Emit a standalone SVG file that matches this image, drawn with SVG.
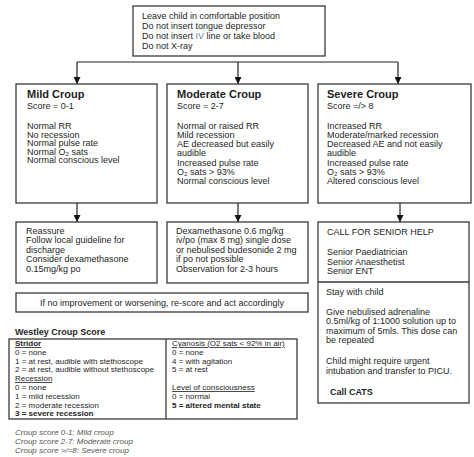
<svg xmlns="http://www.w3.org/2000/svg" width="474" height="457" viewBox="0 0 474 457">
<defs>
<style>
.box{fill:#fff;stroke:#3a3a3a;stroke-width:1.3}
.t{font-family:"Liberation Sans",Arial,sans-serif;font-size:9px;fill:#1e1e1e}
.s{font-size:8px}
.h{font-family:"Liberation Sans",Arial,sans-serif;font-size:11px;font-weight:bold;fill:#1e1e1e}
.b{font-weight:bold}
.u{text-decoration:underline}
.f{font-family:"Liberation Sans",Arial,sans-serif;font-size:8px;font-style:italic;fill:#555}
.ln{fill:none;stroke:#222;stroke-width:1.2}
</style>
<marker id="ah" markerUnits="userSpaceOnUse" markerWidth="8" markerHeight="7" refX="7" refY="3.5" orient="auto">
<path d="M0,0 L7,3.5 L0,7 Z" fill="#111"/>
</marker>
</defs>
<rect width="474" height="457" fill="#fff"/>

<g id="connectors">
<path class="ln" d="M77,62 H398"/>
<path class="ln" d="M77,62 V84" marker-end="url(#ah)"/>
<path class="ln" d="M238,62 V84" marker-end="url(#ah)"/>
<path class="ln" d="M398,62 V84" marker-end="url(#ah)"/>
<path class="ln" d="M77,203 V222" marker-end="url(#ah)"/>
<path class="ln" d="M238,203 V222" marker-end="url(#ah)"/>
<path class="ln" d="M400,203 V222" marker-end="url(#ah)"/>
</g>

<g id="start">
<rect class="box" x="133" y="6" width="192" height="50"/>
<text class="t" x="142" y="18.5">Leave child in comfortable position</text>
<text class="t" x="142" y="28.5">Do not insert tongue depressor</text>
<text class="t" x="142" y="38.5">Do not insert <tspan fill="#6f7f9f">IV</tspan> line or take blood</text>
<text class="t" x="142" y="48.5">Do not X-ray</text>
</g>

<g id="mild">
<rect class="box" x="16" y="84" width="141" height="119"/>
<text class="h" x="27" y="98">Mild Croup</text>
<text class="t" x="27" y="108.5">Score = 0-1</text>
<text class="t" x="27" y="129">Normal RR</text>
<text class="t" x="27" y="137.5">No recession</text>
<text class="t" x="27" y="146">Normal pulse rate</text>
<text class="t" x="27" y="154.5">Normal O₂ sats</text>
<text class="t" x="27" y="163">Normal conscious level</text>
</g>

<g id="moderate">
<rect class="box" x="167" y="84" width="141" height="119"/>
<text class="h" x="177" y="98">Moderate Croup</text>
<text class="t" x="177" y="108.5">Score = 2-7</text>
<text class="t" x="177" y="128.5">Normal or raised RR</text>
<text class="t" x="177" y="137.8">Mild recession</text>
<text class="t" x="177" y="147.1">AE decreased but easily</text>
<text class="t" x="177" y="156.4">audible</text>
<text class="t" x="177" y="165.7">Increased pulse rate</text>
<text class="t" x="177" y="175">O₂ sats &gt; 93%</text>
<text class="t" x="177" y="184.3">Normal conscious level</text>
</g>

<g id="severe">
<rect class="box" x="318" y="84" width="153" height="119"/>
<text class="h" x="327" y="98">Severe Croup</text>
<text class="t" x="327" y="108.5">Score =/&gt; 8</text>
<text class="t" x="327" y="128.5">Increased RR</text>
<text class="t" x="327" y="137.8">Moderate/marked recession</text>
<text class="t" x="327" y="147.1">Decreased AE and not easily</text>
<text class="t" x="327" y="156.4">audible</text>
<text class="t" x="327" y="165.7">Increased pulse rate</text>
<text class="t" x="327" y="175">O₂ sats &gt; 93%</text>
<text class="t" x="327" y="184.3">Altered conscious level</text>
</g>

<g id="mild-action">
<rect class="box" x="16" y="222" width="141" height="61"/>
<text class="t" x="26" y="233.5">Reassure</text>
<text class="t" x="26" y="243.1">Follow local guideline for</text>
<text class="t" x="26" y="252.7">discharge</text>
<text class="t" x="26" y="262.3">Consider dexamethasone</text>
<text class="t" x="26" y="271.9">0.15mg/kg po</text>
</g>

<g id="moderate-action">
<rect class="box" x="167" y="222" width="141" height="61"/>
<text class="t" x="176" y="233.5">Dexamethasone 0.6 mg/kg</text>
<text class="t" x="176" y="243.1">iv/po (max 8 mg) single dose</text>
<text class="t" x="176" y="252.7">or nebulised budesonide 2 mg</text>
<text class="t" x="176" y="262.3">if po not possible</text>
<text class="t" x="176" y="271.9">Observation for 2-3 hours</text>
</g>

<g id="severe-action">
<rect class="box" x="318" y="222" width="151" height="181"/>
<line class="box" x1="318" y1="282" x2="469" y2="282"/>
<text class="t" x="327" y="235">CALL FOR SENIOR HELP</text>
<text class="t" x="327" y="255">Senior Paediatrician</text>
<text class="t" x="327" y="264.5">Senior Anaesthetist</text>
<text class="t" x="327" y="274">Senior ENT</text>
<text class="t" x="326" y="295">Stay with child</text>
<text class="t" x="326" y="314.5">Give nebulised adrenaline</text>
<text class="t" x="326" y="324">0.5ml/kg of 1:1000 solution up to</text>
<text class="t" x="326" y="333.5">maximum of 5mls. This dose can</text>
<text class="t" x="326" y="343">be repeated</text>
<text class="t" x="326" y="364">Child might require urgent</text>
<text class="t" x="326" y="373.5">intubation and transfer to PICU.</text>
<text class="t b" x="330" y="395">Call CATS</text>
</g>

<g id="rescore">
<rect class="box" x="16" y="293" width="292" height="19"/>
<text class="t" x="162" y="305.5" text-anchor="middle">If no improvement or worsening, re-score and act accordingly</text>
</g>

<g id="westley">
<text class="t b" x="15" y="335">Westley Croup Score</text>
<rect class="box" x="9" y="339" width="288" height="80"/>
<line class="box" x1="166" y1="339" x2="166" y2="419"/>
<text class="t s b u" x="15" y="346">Stridor</text>
<text class="t s" x="15" y="354.8">0 = none</text>
<text class="t s" x="15" y="363.6">1 = at rest, audible with stethoscope</text>
<text class="t s" x="15" y="372.4">2 = at rest, audible without stethoscope</text>
<text class="t s u" x="15" y="381.2">Recession</text>
<text class="t s" x="15" y="390">0 = none</text>
<text class="t s" x="15" y="398.8">1 = mild recession</text>
<text class="t s" x="15" y="407.6">2 = moderate recession</text>
<text class="t s b" x="15" y="416.4">3 = severe recession</text>
<text class="t s u" x="172" y="346">Cyanosis (O2 sats &lt; 92% in air)</text>
<text class="t s" x="172" y="354.8">0 = none</text>
<text class="t s" x="172" y="363.6">4 = with agitation</text>
<text class="t s" x="172" y="372.4">5 = at rest</text>
<text class="t s u" x="172" y="390">Level of consciousness</text>
<text class="t s" x="172" y="398.8">0 = normal</text>
<text class="t s b" x="172" y="407.6">5 = altered mental state</text>
</g>

<g id="legend">
<text class="f" x="15" y="435">Croup score 0-1: Mild croup</text>
<text class="f" x="15" y="444">Croup score 2-7: Moderate croup</text>
<text class="f" x="15" y="453">Croup score &gt;/=8: Severe croup</text>
</g>
</svg>
